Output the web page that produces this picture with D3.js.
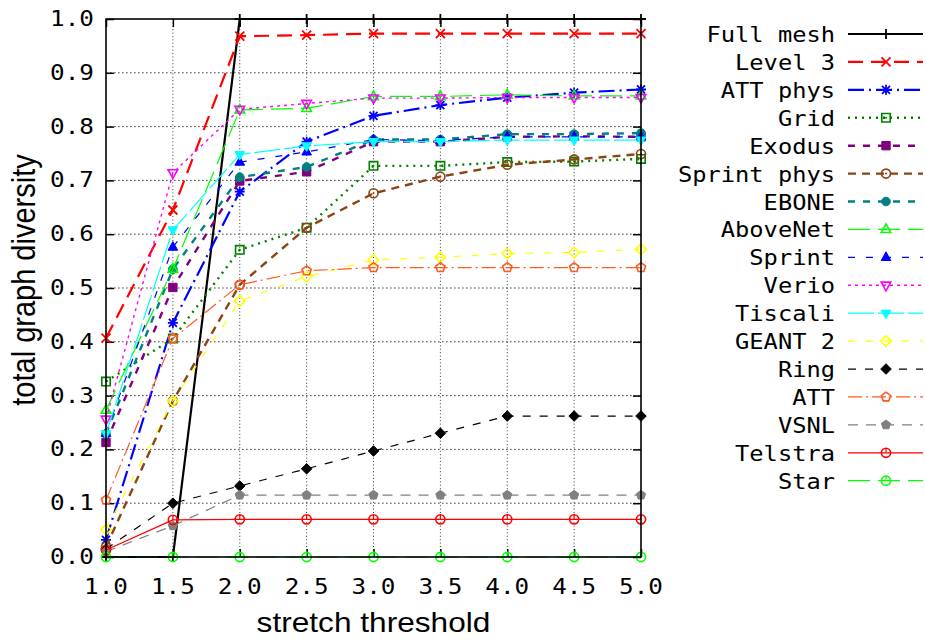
<!DOCTYPE html>
<html><head><meta charset="utf-8">
<script src="https://cdn.jsdelivr.net/npm/d3@7"></script>
<style>html,body{margin:0;padding:0;background:#fff;}svg{display:block;}</style>
</head><body>
<svg id="chart" width="925" height="640"></svg>
<script>
// ---------- data ----------
const xValues = [1.0, 1.5, 2.0, 2.5, 3.0, 3.5, 4.0, 4.5, 5.0];
const xTickLabels = ["1.0","1.5","2.0","2.5","3.0","3.5","4.0","4.5","5.0"];
const yTickValues = [0,0.1,0.2,0.3,0.4,0.5,0.6,0.7,0.8,0.9,1.0];
const seriesNames = ["Full mesh","Level 3","ATT phys","Grid","Exodus","Sprint phys","EBONE","AboveNet","Sprint","Verio","Tiscali","GEANT 2","Ring","ATT","VSNL","Telstra","Star"];
const fullMesh   = [0, 0, 1, 1, 1, 1, 1, 1, 1];
const level3     = [0.407, 0.645, 0.968, 0.970, 0.973, 0.973, 0.973, 0.973, 0.973];
const attPhys    = [0.032, 0.435, 0.679, 0.772, 0.820, 0.840, 0.854, 0.863, 0.869];
const grid       = [0.326, 0.406, 0.571, 0.612, 0.727, 0.727, 0.734, 0.735, 0.740];
const exodus     = [0.213, 0.501, 0.699, 0.716, 0.772, 0.772, 0.781, 0.782, 0.781];
const sprintPhys = [0.019, 0.290, 0.506, 0.612, 0.676, 0.707, 0.729, 0.739, 0.749];
const ebone      = [0.229, 0.535, 0.706, 0.725, 0.776, 0.776, 0.786, 0.786, 0.788];
const aboveNet   = [0.273, 0.535, 0.831, 0.834, 0.856, 0.856, 0.859, 0.857, 0.857];
const sprint     = [0.230, 0.576, 0.734, 0.753, 0.776, 0.774, 0.781, 0.781, 0.781];
const verio      = [0.256, 0.714, 0.832, 0.843, 0.853, 0.853, 0.854, 0.854, 0.854];
const tiscali    = [0.229, 0.608, 0.748, 0.764, 0.772, 0.772, 0.775, 0.775, 0.775];
const geant2     = [0.051, 0.290, 0.476, 0.521, 0.552, 0.557, 0.564, 0.566, 0.572];
const ring       = [0.015, 0.100, 0.132, 0.164, 0.197, 0.230, 0.262, 0.262, 0.262];
const att        = [0.106, 0.406, 0.506, 0.532, 0.538, 0.538, 0.538, 0.538, 0.538];
const vsnl       = [0.010, 0.058, 0.115, 0.115, 0.115, 0.115, 0.115, 0.115, 0.115];
const telstra    = [0.013, 0.069, 0.070, 0.070, 0.070, 0.070, 0.070, 0.070, 0.070];
const star       = [0, 0, 0, 0, 0, 0, 0, 0, 0];
const seriesValues = [fullMesh, level3, attPhys, grid, exodus, sprintPhys, ebone, aboveNet, sprint, verio, tiscali, geant2, ring, att, vsnl, telstra, star];

// ---------- styles ----------
const styles = [
  {color:"#000000", w:2.2, dash:null,          mark:"plus",   fill:false, ms:5},
  {color:"#ff0000", w:2.2, dash:"15,8",        mark:"cross",  fill:false, ms:4.5},
  {color:"#0000ff", w:2.2, dash:"16,5,2,5",    mark:"star",   fill:false, ms:5},
  {color:"#008000", w:2.4, dash:"2,5",         mark:"square", fill:false, ms:4.2, dot:true},
  {color:"#800080", w:2.4, dash:"7,8",         mark:"square", fill:true,  ms:4.2},
  {color:"#8b4513", w:2.4, dash:"8,6",         mark:"circle", fill:false, ms:4.5, dot:true},
  {color:"#008080", w:2.4, dash:"7,8",         mark:"circle", fill:true,  ms:4.3},
  {color:"#00ff00", w:1.2, dash:"22,8",        mark:"triUp",  fill:false, ms:4.8},
  {color:"#0000ff", w:1.2, dash:"7,11",        mark:"triUp",  fill:true,  ms:4.8},
  {color:"#ff00ff", w:1.4, dash:"3,4",         mark:"triDown",fill:false, ms:4.8},
  {color:"#00ffff", w:1.2, dash:"26,4",        mark:"triDown",fill:true,  ms:4.8},
  {color:"#ffff00", w:1.2, dash:"7,11",        mark:"diamond",fill:false, ms:4.8},
  {color:"#000000", w:1.2, dash:"8,9",         mark:"diamond",fill:true,  ms:4.8},
  {color:"#ff5a1f", w:1.2, dash:"14,4,2,4",    mark:"pent",   fill:false, ms:4.6},
  {color:"#808080", w:1.2, dash:"10,8",        mark:"pent",   fill:true,  ms:4.6},
  {color:"#ff0000", w:1.3, dash:null,          mark:"circle", fill:false, ms:4.6, tick:true},
  {color:"#00ff00", w:1.2, dash:"22,8",        mark:"circle", fill:false, ms:4.6, tick:true}
];

const svg = d3.select("#chart");
const L = 106, R = 641, T = 19, B = 557;
const x = d3.scaleLinear().domain([1,5]).range([L,R]);
const y = d3.scaleLinear().domain([0,1]).range([B,T]);
const monoFont = "'DejaVu Sans Mono', 'Liberation Mono', monospace";
const sansFont = "'Liberation Sans', Arial, Helvetica, sans-serif";
const SX = 1.13;

// grid
const gridG = svg.append("g");
xValues.filter(v => v > 1 && v < 5).forEach(v => {
  gridG.append("line").attr("x1", x(v)).attr("x2", x(v)).attr("y1", T).attr("y2", B)
    .attr("stroke", "#222").attr("stroke-width", 0.9).attr("stroke-dasharray", "1,2.4");
});
yTickValues.filter(v => v > 0 && v < 1).forEach(v => {
  gridG.append("line").attr("x1", L).attr("x2", R).attr("y1", y(v)).attr("y2", y(v))
    .attr("stroke", "#444").attr("stroke-width", 1).attr("stroke-dasharray", "1.6,2.4");
});

// axes with inward ticks
const axB = d3.axisBottom(x).tickValues(xValues).tickSize(-8).tickFormat("");
const axT = d3.axisTop(x).tickValues(xValues).tickSize(-8).tickFormat("");
const axL = d3.axisLeft(y).tickValues(yTickValues).tickSize(-8).tickFormat("");
const axR = d3.axisRight(y).tickValues(yTickValues).tickSize(-8).tickFormat("");
[[axB,`translate(0,${B})`],[axT,`translate(0,${T})`],[axL,`translate(${L},0)`],[axR,`translate(${R},0)`]].forEach(([a,t]) => {
  const g = svg.append("g").attr("transform", t).call(a);
  g.select(".domain").remove();
  g.selectAll("line").attr("stroke", "#000").attr("stroke-width", 1.5);
});

// tick labels
xValues.forEach((v,i) => {
  svg.append("text").attr("transform", `translate(${x(v)},${594}) scale(${SX},1)`)
    .attr("text-anchor","middle").attr("font-family", monoFont).attr("font-size", 21.5)
    .attr("fill","#000").text(xTickLabels[i]);
});
yTickValues.forEach(v => {
  svg.append("text").attr("transform", `translate(94,${y(v)+7}) scale(${SX},1)`)
    .attr("text-anchor","end").attr("font-family", monoFont).attr("font-size", 21.5)
    .attr("fill","#000").text(v.toFixed(1));
});

// axis titles
svg.append("text").attr("transform", `translate(${(L+R)/2},632) scale(${SX},1)`)
  .attr("text-anchor","middle").attr("font-family", sansFont).attr("font-size", 28)
  .attr("fill","#000").text("stretch threshold");
svg.append("text").attr("transform", `translate(35,280) scale(${SX},1) rotate(-90)`)
  .attr("text-anchor","middle").attr("font-family", sansFont).attr("font-size", 29)
  .attr("fill","#000").text("total graph diversity");

// markers
function markerPath(type, s) {
  switch(type) {
    case "plus": return `M${-s},0H${s}M0,${-s}V${s}`;
    case "cross": return `M${-s},${-s}L${s},${s}M${-s},${s}L${s},${-s}`;
    case "star": return `M${-s},0H${s}M0,${-s}V${s}M${-s*0.8},${-s*0.8}L${s*0.8},${s*0.8}M${-s*0.8},${s*0.8}L${s*0.8},${-s*0.8}`;
    case "square": return `M${-s},${-s}H${s}V${s}H${-s}Z`;
    case "circle": return `M${s},0A${s},${s} 0 1 1 ${-s},0A${s},${s} 0 1 1 ${s},0Z`;
    case "triUp": return `M0,${-s*1.15}L${s},${s*0.65}L${-s},${s*0.65}Z`;
    case "triDown": return `M0,${s*1.15}L${s},${-s*0.65}L${-s},${-s*0.65}Z`;
    case "diamond": return `M0,${-s*1.1}L${s*1.1},0L0,${s*1.1}L${-s*1.1},0Z`;
    case "pent": {
      let p = "";
      for (let k=0;k<5;k++){ const a = -Math.PI/2 + k*2*Math.PI/5; p += (k?"L":"M") + (s*1.05*Math.cos(a)).toFixed(2)+","+(s*1.05*Math.sin(a)).toFixed(2); }
      return p+"Z";
    }
  }
}
function drawMarker(g, st, cx, cy) {
  const open = !st.fill;
  const lineOnly = st.mark==="plus"||st.mark==="cross"||st.mark==="star";
  g.append("path").attr("transform", `translate(${cx},${cy})`).attr("d", markerPath(st.mark, st.ms))
    .attr("fill", lineOnly ? "none" : (open ? "none" : st.color))
    .attr("stroke", st.color).attr("stroke-width", lineOnly ? 1.8 : (open ? 1.6 : 1));
  if (st.dot) g.append("circle").attr("cx",cx).attr("cy",cy).attr("r",1).attr("fill",st.color);
  if (st.tick) g.append("line").attr("x1",cx).attr("x2",cx).attr("y1",cy-st.ms).attr("y2",cy).attr("stroke",st.color).attr("stroke-width",1.2);
}

// series
const line = d3.line().x((d,i) => x(xValues[i])).y(d => y(d));
const plotG = svg.append("g");
seriesValues.forEach((vals, si) => {
  const st = styles[si];
  const g = plotG.append("g");
  g.append("path").attr("d", line(vals)).attr("fill","none").attr("stroke", st.color)
    .attr("stroke-width", st.w).attr("stroke-dasharray", st.dash).attr("stroke-linejoin","round");
  vals.forEach((v,i) => drawMarker(g, st, x(xValues[i]), y(v)));
});

// border
svg.append("rect").attr("x",L).attr("y",T).attr("width",R-L).attr("height",B-T)
  .attr("fill","none").attr("stroke","#000").attr("stroke-width",1.6);

// legend
const legG = svg.append("g");
seriesNames.forEach((name, i) => {
  const st = styles[i];
  const cy = 34 + i*27.92;
  legG.append("text").attr("transform", `translate(835,${cy+8}) scale(${SX},1)`)
    .attr("text-anchor","end").attr("font-family", monoFont).attr("font-size", 21)
    .attr("fill","#000").text(name);
  legG.append("line").attr("x1",848).attr("x2",923).attr("y1",cy).attr("y2",cy)
    .attr("stroke",st.color).attr("stroke-width",st.w).attr("stroke-dasharray",st.dash);
  drawMarker(legG, st, 886, cy);
});
</script>
</body></html>
